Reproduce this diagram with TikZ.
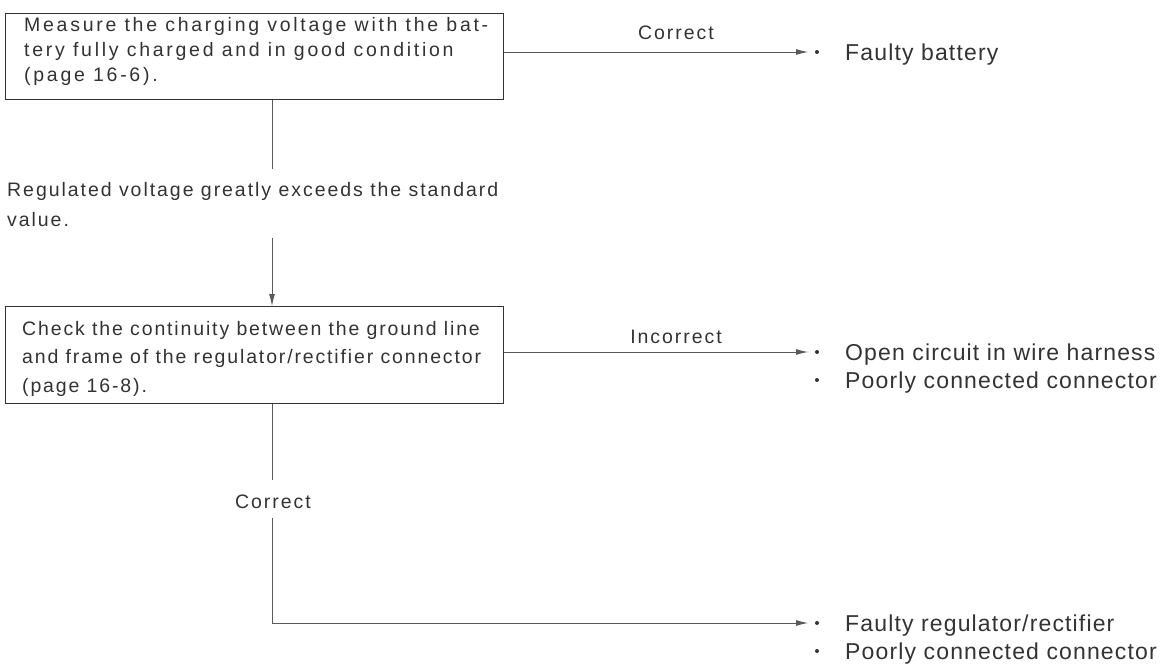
\documentclass[tikz,border=0pt]{standalone}
\usepackage{fontspec}
\setmainfont{Liberation Sans}
\newfontfamily\boxfa{Liberation Sans}[LetterSpace=14]
\newfontfamily\boxfb{Liberation Sans}[LetterSpace=9.5]
\newfontfamily\midf{Liberation Sans}[LetterSpace=10]
\newfontfamily\sidef{Liberation Sans}[LetterSpace=5]
\usetikzlibrary{arrows.meta}
\definecolor{ink}{HTML}{333333}
\definecolor{wire}{HTML}{5A5A5A}
\begin{document}
\begin{tikzpicture}[x=1pt,y=1pt,
  stepbox/.style={draw=ink,line width=1.4pt,anchor=north west,minimum width=498pt,minimum height=#1,inner sep=0pt},
  boxtext/.style={text=ink,inner sep=0pt,anchor=base west,align=left},
  midtext/.style={text=ink,inner sep=0pt,align=left,font=\midf\fontsize{19.5}{30}\selectfont},
  side/.style={text=ink,inner sep=0pt,anchor=base west,font=\sidef\fontsize{23}{28}\selectfont},
  line/.style={draw=wire,line width=0.9pt},
  arr/.style={line,-{Latex[length=12pt,width=6pt]}},
  bul/.style={circle,fill=ink,inner sep=0pt,minimum size=4pt}]
\fill[white] (0,0) rectangle (1164,-668);
\useasboundingbox (0,0) rectangle (1164,-668);

% boxes
\node[stepbox=86pt] (b1) at (5,-13) {};
\node[boxtext,font=\boxfa\fontsize{19.5}{25}\selectfont] (b1t) at (24,-82) {Measure the charging voltage with the bat-\\tery fully charged and in good condition\\(page 16-6).};
\node[stepbox=97pt] (b2) at (5,-306) {};
\node[boxtext,font=\boxfb\fontsize{19.5}{28.5}\selectfont] (b2t) at (22,-392) {Check the continuity between the ground line\\and frame of the regulator/rectifier connector\\(page 16-8).};

% condition text between boxes
\node[midtext,anchor=base west] (t1) at (7,-227) {Regulated voltage greatly exceeds the standard\\value.};

% top branch
\node[midtext,anchor=base] (c1) at (676,-40) {Correct};
\node[bul] (d1) at (817,-52) {};
\node[side] (f1) at (845,-61) {Faulty battery};
\draw[arr,shorten >=9pt] (b1.east |- d1) -- (d1.center);

% vertical from b1 to b2
\coordinate (vx) at (272,0);
\coordinate (g1) at (272,-169);
\coordinate (g2) at (272,-238);
\draw[line] (b1.south -| vx) -- (g1);
\draw[arr] (g2) -- (b2.north -| vx);

% incorrect branch
\node[midtext,anchor=base] (c2) at (676,-343) {Incorrect};
\node[bul] (d2) at (817,-352) {};
\node[bul] (d3) at (817,-380) {};
\node[side] (f2) at (845,-360) {Open circuit in wire harness};
\node[side] (f3) at (845,-388) {Poorly connected connector};
\draw[arr,shorten >=9pt] (b2.east |- d2) -- (d2.center);

% correct branch down
\node[midtext,anchor=base] (c3) at (273,-508) {Correct};
\coordinate (g3) at (272,-480);
\coordinate (g4) at (272,-518);
\coordinate (k) at (272,-623);
\node[bul] (d4) at (817,-623) {};
\node[bul] (d5) at (817,-651) {};
\node[side] (f4) at (845,-631) {Faulty regulator/rectifier};
\node[side] (f5) at (845,-659) {Poorly connected connector};
\draw[line] (b2.south -| vx) -- (g3);
\draw[arr,shorten >=9pt] (g4) -- (k) -- (d4.center);
\end{tikzpicture}
\end{document}
